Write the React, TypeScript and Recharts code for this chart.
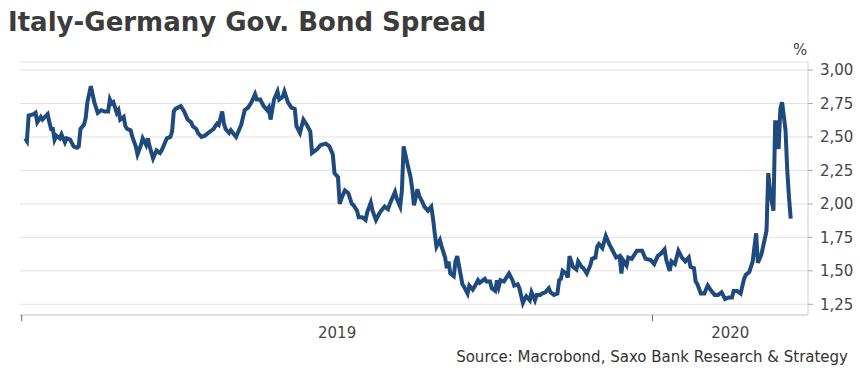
import { LineChart, Line, XAxis, YAxis, CartesianGrid } from "recharts";

// days since 1 Jan 2019
const days = [
  2, 3, 4, 7, 8, 9, 11, 12, 15, 16, 17, 18, 19, 20, 22, 23, 25, 26, 28, 30, 32, 33, 34, 36, 37, 38, 40, 42, 44, 46,
  48, 50, 51, 52, 53, 55, 56, 57, 59, 60, 61, 63, 64, 66, 67, 69, 70, 72, 73, 74, 76, 78, 80, 81, 84, 86, 87, 88, 89, 92,
  94, 96, 98, 99, 101, 102, 104, 106, 108, 110, 111, 113, 114, 116, 117, 118, 120, 121, 124, 125, 127, 129, 131, 133, 135, 136, 138, 140, 142, 143,
  144, 146, 148, 149, 151, 152, 154, 156, 158, 159, 161, 163, 165, 167, 168, 171, 173, 176, 178, 180, 181, 183, 184, 185, 187, 189, 191, 192, 194, 195,
  197, 198, 199, 200, 202, 203, 205, 207, 208, 210, 212, 213, 216, 217, 219, 220, 221, 223, 225, 226, 227, 229, 230, 232, 233, 235, 237, 238, 239, 240,
  242, 243, 245, 246, 247, 248, 250, 251, 252, 253, 255, 256, 258, 259, 261, 262, 264, 265, 267, 268, 269, 271, 272, 274, 275, 276, 277, 279, 280, 282,
  284, 285, 287, 288, 290, 291, 292, 294, 295, 297, 298, 300, 301, 303, 305, 306, 308, 310, 311, 312, 313, 315, 316, 317, 319, 321, 322, 324, 325, 327,
  329, 330, 332, 333, 334, 336, 338, 340, 342, 344, 346, 347, 348, 350, 351, 353, 354, 356, 359, 361, 364, 366, 368, 370, 372, 373, 375, 376, 378, 380,
  382, 384, 386, 387, 389, 390, 391, 393, 395, 397, 399, 401, 403, 405, 407, 409, 411, 412, 414, 416, 418, 419, 421, 423, 424, 425, 426, 428, 429, 431,
  432, 433, 435, 436, 437, 438, 439, 440, 442, 443, 444, 445,
];

// Italy-Germany 10y spread, %
const spread = [
  2.49, 2.47, 2.66, 2.67, 2.68, 2.61, 2.65, 2.63, 2.67, 2.61, 2.56, 2.56, 2.48, 2.51, 2.49, 2.52, 2.46, 2.49, 2.48, 2.43, 2.42, 2.43, 2.56, 2.59, 2.64, 2.76, 2.88, 2.76, 2.68, 2.7,
  2.69, 2.69, 2.78, 2.75, 2.76, 2.68, 2.7, 2.63, 2.65, 2.58, 2.56, 2.55, 2.5, 2.43, 2.37, 2.44, 2.49, 2.44, 2.49, 2.43, 2.34, 2.4, 2.38, 2.4, 2.49, 2.5, 2.54, 2.69, 2.71, 2.73,
  2.69, 2.63, 2.61, 2.58, 2.56, 2.53, 2.5, 2.51, 2.53, 2.55, 2.56, 2.6, 2.59, 2.69, 2.6, 2.56, 2.53, 2.55, 2.5, 2.53, 2.59, 2.7, 2.72, 2.76, 2.82, 2.78, 2.78, 2.73, 2.7, 2.72,
  2.63, 2.78, 2.84, 2.78, 2.8, 2.84, 2.76, 2.72, 2.71, 2.58, 2.53, 2.63, 2.59, 2.54, 2.38, 2.41, 2.44, 2.45, 2.43, 2.37, 2.23, 2.2, 2.0, 2.04, 2.1, 2.08, 2.0, 1.99, 1.95, 1.9,
  1.9, 1.89, 1.88, 1.94, 2.01, 1.95, 1.88, 1.93, 1.95, 1.98, 1.96, 2.0, 2.09, 2.04, 1.98, 2.1, 2.43, 2.31, 2.2, 2.11, 1.99, 2.11, 2.06, 2.01, 1.98, 1.95, 1.98, 1.89, 1.78, 1.68,
  1.73, 1.68, 1.6, 1.52, 1.57, 1.48, 1.46, 1.57, 1.61, 1.54, 1.4, 1.38, 1.33, 1.39, 1.36, 1.38, 1.43, 1.41, 1.43, 1.44, 1.42, 1.42, 1.37, 1.35, 1.43, 1.38, 1.43, 1.42, 1.44, 1.48,
  1.43, 1.39, 1.4, 1.37, 1.26, 1.29, 1.31, 1.28, 1.34, 1.28, 1.32, 1.32, 1.33, 1.34, 1.37, 1.34, 1.32, 1.33, 1.43, 1.44, 1.5, 1.48, 1.45, 1.61, 1.53, 1.51, 1.57, 1.53, 1.52, 1.48,
  1.54, 1.59, 1.6, 1.68, 1.7, 1.67, 1.76, 1.7, 1.65, 1.6, 1.61, 1.48, 1.58, 1.54, 1.6, 1.59, 1.61, 1.65, 1.65, 1.59, 1.58, 1.55, 1.61, 1.63, 1.66, 1.58, 1.5, 1.57, 1.55, 1.65,
  1.6, 1.57, 1.6, 1.53, 1.52, 1.42, 1.4, 1.33, 1.33, 1.39, 1.35, 1.32, 1.32, 1.34, 1.29, 1.3, 1.3, 1.35, 1.35, 1.33, 1.44, 1.47, 1.49, 1.57, 1.68, 1.78, 1.56, 1.62, 1.68, 1.8,
  2.23, 2.1, 1.95, 2.61, 2.61, 2.41, 2.71, 2.76, 2.55, 2.25, 2.05, 1.89,
];

const yTicks = [1.25, 1.5, 1.75, 2.0, 2.25, 2.5, 2.75, 3.0];
const yearStarts = [0, 365]; // 1 Jan 2019, 1 Jan 2020
const yearLabels = ["2019", "2020"];
const xDomain: [number, number] = [-1, 455];

const data = days.map((d, i) => ({ day: d, spread: spread[i] }));

// year labels sit in the middle of each (visible) year
const labelTicks = yearStarts.map((s, i) => {
  const end = i + 1 < yearStarts.length ? yearStarts[i + 1] : xDomain[1];
  return (s + end) / 2;
});

function YearTick(props: any) {
  const { x, y, payload } = props;
  const si = yearStarts.indexOf(payload.value);
  if (si >= 0) {
    return <line x1={x} x2={x} y1={y} y2={y + 6} stroke="#666" strokeWidth={1} />;
  }
  const li = labelTicks.indexOf(payload.value);
  return (
    <text x={x} y={y + 23} textAnchor="middle" fill="#444" fontSize={15} fontFamily="DejaVu Sans">
      {yearLabels[li]}
    </text>
  );
}

export default function App() {
  return (
    <div
      style={{
        position: "absolute",
        left: 0,
        top: 0,
        width: 860,
        height: 378,
        background: "#fff",
        fontFamily: "DejaVu Sans",
      }}
    >
      <div
        style={{
          position: "absolute",
          left: 8,
          top: 6,
          fontSize: 26,
          fontWeight: "bold",
          color: "#3c3c3c",
          whiteSpace: "nowrap",
          lineHeight: "32px",
        }}
      >
        Italy-Germany Gov. Bond Spread
      </div>
      <div style={{ position: "absolute", left: 793, top: 41, fontSize: 15, color: "#444" }}>%</div>
      <LineChart
        width={860}
        height={378}
        data={data}
        margin={{ top: 62, right: 0, bottom: 33, left: 20 }}
      >
        <CartesianGrid vertical={false} stroke="#e2e2e2" />
        <XAxis
          dataKey="day"
          type="number"
          domain={xDomain}
          ticks={[...yearStarts, ...labelTicks]}
          interval={0}
          allowDataOverflow
          axisLine={{ stroke: "#cfcfcf" }}
          tickLine={false}
          tickSize={0}
          tickMargin={0}
          height={30}
          tick={(p: any) => <YearTick {...p} />}
        />
        <YAxis
          orientation="right"
          type="number"
          domain={[1.17, 3.06]}
          ticks={yTicks}
          allowDataOverflow
          width={52}
          axisLine={{ stroke: "#cfcfcf" }}
          tickLine={{ stroke: "#aaa" }}
          tickSize={5}
          tickMargin={7}
          tick={{ fill: "#444", fontSize: 15, fontFamily: "DejaVu Sans" }}
          tickFormatter={(v: number) => v.toFixed(2).replace(".", ",")}
        />
        <Line
          type="linear"
          dataKey="spread"
          stroke="#1f4a7e"
          strokeWidth={4}
          dot={false}
          isAnimationActive={false}
        />
      </LineChart>
      <div
        style={{
          position: "absolute",
          right: 12,
          top: 348,
          fontSize: 15,
          color: "#333",
          whiteSpace: "nowrap",
        }}
      >
        Source: Macrobond, Saxo Bank Research &amp; Strategy
      </div>
    </div>
  );
}
